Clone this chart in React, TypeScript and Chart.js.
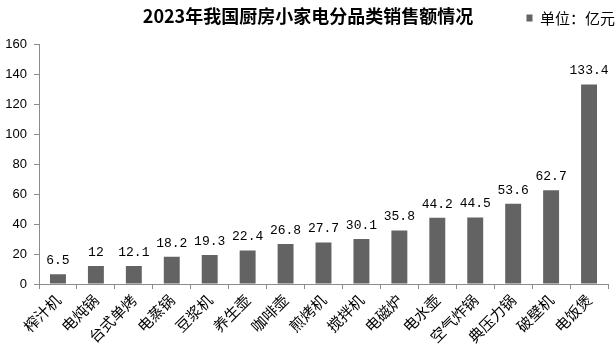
import React, { useEffect, useRef } from "react";
import { Chart, registerables } from "chart.js";

Chart.register(...registerables);

const categories = ["榨汁机", "电炖锅", "台式单烤", "电蒸锅", "豆浆机", "养生壶", "咖啡壶", "煎烤机", "搅拌机", "电磁炉", "电水壶", "空气炸锅", "典压力锅", "破壁机", "电饭煲"];
const sales = [6.5, 12, 12.1, 18.2, 19.3, 22.4, 26.8, 27.7, 30.1, 35.8, 44.2, 44.5, 53.6, 62.7, 133.4];
const seriesName = "单位：亿元";
const chartTitle = "2023年我国厨房小家电分品类销售额情况";
const yMin = 0;
const yMax = 160;
const yStep = 20;

const BAR = "#636363";
const AXIS = "#8c8c8c";
const CJK = "'Noto Sans CJK SC', sans-serif";

const valueLabels = {
  id: "valueLabels",
  afterDatasetsDraw(chart: any) {
    const ctx = chart.ctx;
    const meta = chart.getDatasetMeta(0);
    ctx.save();
    ctx.fillStyle = "#000";
    ctx.font = "13px 'Liberation Mono', monospace";
    ctx.textAlign = "center";
    ctx.textBaseline = "bottom";
    meta.data.forEach((el: any, i: number) => {
      ctx.fillText(String(sales[i]), el.x, el.y - 7);
    });
    ctx.restore();
  },
};

export default function App() {
  const ref = useRef<HTMLCanvasElement | null>(null);
  useEffect(() => {
    document.body.style.margin = "0";
    const chart = new Chart(ref.current!, {
      type: "bar",
      data: {
        labels: categories,
        datasets: [
          {
            label: seriesName,
            data: sales,
            backgroundColor: BAR,
            borderWidth: 0,
            barPercentage: 1,
            categoryPercentage: 0.42,
          },
        ],
      },
      options: {
        animation: false,
        responsive: false,
        layout: { padding: { left: 0, right: 0, top: 0, bottom: 0 } },
        plugins: {
          title: {
            display: true,
            text: chartTitle,
            color: "#000",
            font: { family: CJK, size: 18, weight: "bold" },
            padding: { top: 5, bottom: -17 },
          },
          legend: {
            display: true,
            position: "top",
            align: "end",
            labels: {
              color: "#000",
              font: { family: CJK, size: 15 },
              boxWidth: 6,
              boxHeight: 7,
              padding: 1,
            },
          },
          tooltip: { enabled: false },
        },
        scales: {
          x: {
            grid: { display: true, offset: true, drawOnChartArea: false, drawTicks: true, tickLength: 5, color: AXIS },
            border: { color: AXIS },
            ticks: {
              color: "#000",
              font: { family: CJK, size: 15 },
              maxRotation: 45,
              minRotation: 45,
              autoSkip: false,
              padding: 2,
            },
            afterFit: (s: any) => {
              s.height = 68;
            },
          },
          xTopSpace: {
            type: "category",
            axis: "x",
            position: "top",
            display: true,
            grid: { display: false },
            border: { display: false },
            ticks: { display: false },
            afterFit: (s: any) => {
              s.height = 9;
            },
          },
          y: {
            min: yMin,
            max: yMax,
            grid: { display: true, drawOnChartArea: false, drawTicks: true, tickLength: 5, color: AXIS },
            border: { color: AXIS },
            ticks: {
              stepSize: yStep,
              color: "#000",
              font: { family: "'Liberation Sans', sans-serif", size: 13 },
              padding: 7,
            },
            afterFit: (s: any) => {
              s.width = 39;
            },
          },
          yRightSpace: {
            type: "linear",
            axis: "y",
            position: "right",
            display: true,
            grid: { display: false },
            border: { display: false },
            ticks: { display: false },
            afterFit: (s: any) => {
              s.width = 8;
            },
          },
        },
      },
      plugins: [valueLabels],
    });
    return () => chart.destroy();
  }, []);
  return <canvas ref={ref} width={616} height={352} />;
}
